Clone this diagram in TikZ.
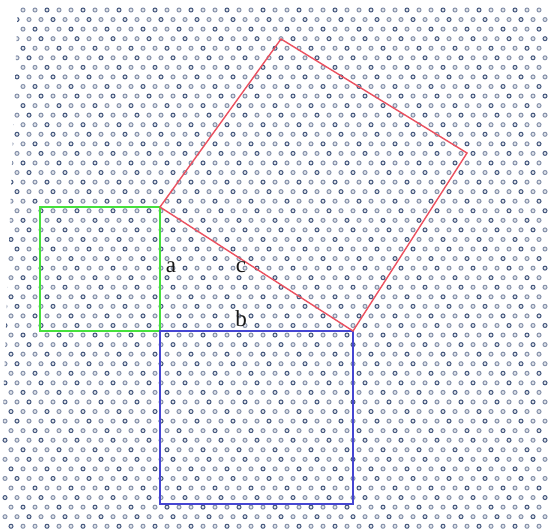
\documentclass[tikz,border=0pt]{standalone}
\usepackage{fontspec}
\setmainfont{Liberation Serif}
\definecolor{dotring}{RGB}{58,78,118}
\definecolor{sqgreen}{RGB}{70,225,60}
\definecolor{sqblue}{RGB}{70,70,210}
\definecolor{sqred}{RGB}{235,80,95}
\tikzset{
 atom/.style={line width=1.0},
 side/.style={line width=1.4},
 lbl/.style={text=black!90,font=\fontsize{23}{26}\selectfont,inner sep=1pt}
}
\begin{document}
\begin{tikzpicture}[x=1pt,y=-1pt]
 \useasboundingbox (0,0) rectangle (548,531);
 % lattice of atoms
 \begin{scope}
 \clip (18,0)--(548,0)--(548,531)--(0,531)--(4,380)--cycle;
 \foreach \j in {0,...,55}{
  \foreach \i in {0,...,45}{
   \pgfmathsetmacro{\px}{11-6*mod(\j,2)+12*\i}
   \pgfmathsetmacro{\py}{10+9.56*\j}
   \pgfmathtruncatemacro{\sh}{mod(\i+2*\j,3)==0 ? 95 : 62}
   \draw[atom,draw=dotring!\sh,fill=dotring!15] (\px,\py) circle (2.0);
  }}
 \end{scope}
 % right triangle corners
 \coordinate (A) at (160,207);
 \coordinate (C) at (160,331);
 \coordinate (B) at (353,331);
 % square on a
 \coordinate (a1) at (40,207);
 \coordinate (a2) at (40,331);
 \draw[side,sqgreen,line width=1.7] (A)--(a1)--(a2)--(C)--cycle;
 % square on b
 \coordinate (b1) at (353,504);
 \coordinate (b2) at (160,504);
 \draw[side,sqblue] (C)--(B)--(b1)--(b2)--cycle;
 % square on c
 \coordinate (c1) at (281,39);
 \coordinate (c2) at (467,153);
 \draw[side,sqred] (A)--(c1)--(c2)--(B)--cycle;
 % labels
 \node[lbl] (la) at (171,267) {a};
 \node[lbl] (lb) at (241,319) {b};
 \node[lbl] (lc) at (241,267) {c};
\end{tikzpicture}
\end{document}
